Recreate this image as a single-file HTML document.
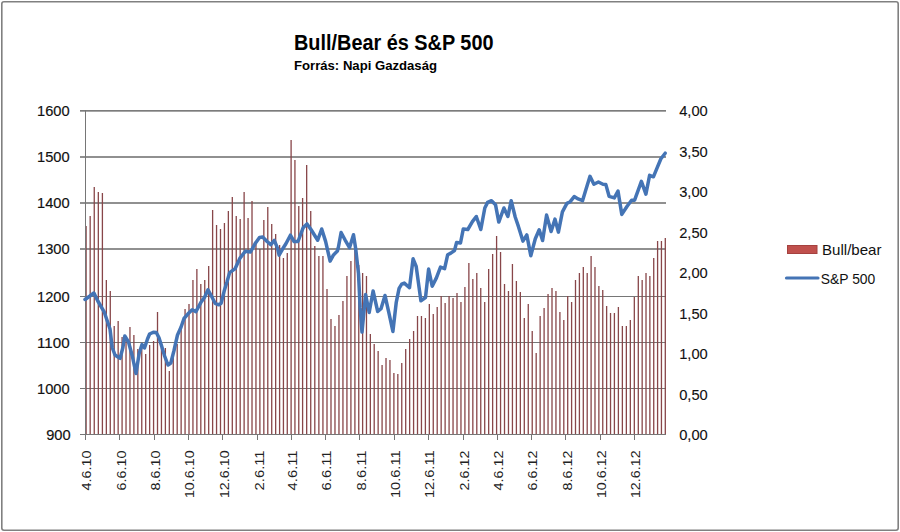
<!DOCTYPE html>
<html><head><meta charset="utf-8"><title>Bull/Bear és S&amp;P 500</title>
<style>
html,body{margin:0;padding:0;background:#fff;}
body{width:900px;height:532px;overflow:hidden;font-family:"Liberation Sans", sans-serif;}
svg{display:block;font-family:"Liberation Sans", sans-serif;}
</style></head><body>
<svg width="900" height="532" viewBox="0 0 900 532">
<rect x="1.8" y="1.8" width="896.4" height="528.4" rx="2.2" ry="2.2" fill="#fff" stroke="#808080" stroke-width="1.6"/>
<g fill="#767676"><rect x="80" y="110.05" width="586" height="1.6"/><rect x="80" y="156.2" width="586" height="1.6"/><rect x="80" y="202.2" width="586" height="1.6"/><rect x="80" y="248.2" width="586" height="1.6"/><rect x="80" y="296" width="586" height="1"/><rect x="80" y="342" width="586" height="1"/><rect x="80" y="388" width="586" height="1"/><rect x="80" y="434" width="586" height="1"/></g>
<g fill="#884649"><rect x="85.45" y="226" width="1.3" height="208"/><rect x="89.52" y="216" width="1.3" height="218"/><rect x="93.6" y="187" width="1.3" height="247"/><rect x="97.67" y="192" width="1.3" height="242"/><rect x="101.75" y="193" width="1.3" height="241"/><rect x="105.69" y="280" width="1.3" height="154"/><rect x="109.62" y="291" width="1.3" height="143"/><rect x="113.56" y="326" width="1.3" height="108"/><rect x="117.5" y="321" width="1.3" height="113"/><rect x="121.43" y="337" width="1.3" height="97"/><rect x="125.37" y="338" width="1.3" height="96"/><rect x="129.3" y="327" width="1.3" height="107"/><rect x="133.24" y="335" width="1.3" height="99"/><rect x="137.18" y="349" width="1.3" height="85"/><rect x="141.11" y="344" width="1.3" height="90"/><rect x="145.05" y="354" width="1.3" height="80"/><rect x="148.99" y="345" width="1.3" height="89"/><rect x="152.92" y="341" width="1.3" height="93"/><rect x="156.86" y="312" width="1.3" height="122"/><rect x="160.8" y="345" width="1.3" height="89"/><rect x="164.73" y="348" width="1.3" height="86"/><rect x="168.67" y="371" width="1.3" height="63"/><rect x="172.6" y="355" width="1.3" height="79"/><rect x="176.54" y="344" width="1.3" height="90"/><rect x="180.48" y="326" width="1.3" height="108"/><rect x="184.41" y="309" width="1.3" height="125"/><rect x="188.35" y="304" width="1.3" height="130"/><rect x="192.29" y="280" width="1.3" height="154"/><rect x="196.22" y="269" width="1.3" height="165"/><rect x="200.16" y="284" width="1.3" height="150"/><rect x="204.1" y="280" width="1.3" height="154"/><rect x="208.03" y="266" width="1.3" height="168"/><rect x="211.97" y="210" width="1.3" height="224"/><rect x="215.9" y="225" width="1.3" height="209"/><rect x="219.84" y="229" width="1.3" height="205"/><rect x="223.78" y="223" width="1.3" height="211"/><rect x="227.71" y="211" width="1.3" height="223"/><rect x="231.65" y="197" width="1.3" height="237"/><rect x="235.59" y="216" width="1.3" height="218"/><rect x="239.53" y="219" width="1.3" height="215"/><rect x="243.47" y="192" width="1.3" height="242"/><rect x="247.42" y="218" width="1.3" height="216"/><rect x="251.36" y="201" width="1.3" height="233"/><rect x="255.3" y="242" width="1.3" height="192"/><rect x="259.24" y="249" width="1.3" height="185"/><rect x="263.18" y="220" width="1.3" height="214"/><rect x="267.13" y="207" width="1.3" height="227"/><rect x="271.07" y="224" width="1.3" height="210"/><rect x="275.01" y="234" width="1.3" height="200"/><rect x="278.95" y="245" width="1.3" height="189"/><rect x="282.78" y="258" width="1.3" height="176"/><rect x="286.62" y="253" width="1.3" height="181"/><rect x="290.45" y="140" width="1.3" height="294"/><rect x="294.28" y="160" width="1.3" height="274"/><rect x="298.12" y="206" width="1.3" height="228"/><rect x="301.95" y="198" width="1.3" height="236"/><rect x="306.02" y="165" width="1.3" height="269"/><rect x="310.08" y="211" width="1.3" height="223"/><rect x="314.15" y="246" width="1.3" height="188"/><rect x="318.22" y="256" width="1.3" height="178"/><rect x="322.28" y="256" width="1.3" height="178"/><rect x="326.35" y="289" width="1.3" height="145"/><rect x="330.34" y="319" width="1.3" height="115"/><rect x="334.32" y="326" width="1.3" height="108"/><rect x="338.31" y="315" width="1.3" height="119"/><rect x="342.29" y="301" width="1.3" height="133"/><rect x="346.28" y="276" width="1.3" height="158"/><rect x="350.26" y="261" width="1.3" height="173"/><rect x="354.25" y="250" width="1.3" height="184"/><rect x="358.11" y="265" width="1.3" height="169"/><rect x="361.97" y="273" width="1.3" height="161"/><rect x="365.83" y="276" width="1.3" height="158"/><rect x="369.69" y="334" width="1.3" height="100"/><rect x="373.55" y="344" width="1.3" height="90"/><rect x="377.49" y="351" width="1.3" height="83"/><rect x="381.43" y="365" width="1.3" height="69"/><rect x="385.36" y="358" width="1.3" height="76"/><rect x="389.3" y="360" width="1.3" height="74"/><rect x="393.24" y="373" width="1.3" height="61"/><rect x="397.18" y="374" width="1.3" height="60"/><rect x="401.11" y="363" width="1.3" height="71"/><rect x="405.05" y="349" width="1.3" height="85"/><rect x="408.99" y="339" width="1.3" height="95"/><rect x="412.93" y="331" width="1.3" height="103"/><rect x="416.86" y="316" width="1.3" height="118"/><rect x="420.8" y="316" width="1.3" height="118"/><rect x="424.74" y="318" width="1.3" height="116"/><rect x="428.68" y="304" width="1.3" height="130"/><rect x="432.61" y="314" width="1.3" height="120"/><rect x="436.55" y="307" width="1.3" height="127"/><rect x="440.51" y="296" width="1.3" height="138"/><rect x="444.47" y="303" width="1.3" height="131"/><rect x="448.43" y="296" width="1.3" height="138"/><rect x="452.39" y="298" width="1.3" height="136"/><rect x="456.35" y="293" width="1.3" height="141"/><rect x="460.31" y="302" width="1.3" height="132"/><rect x="464.26" y="287" width="1.3" height="147"/><rect x="468.22" y="263" width="1.3" height="171"/><rect x="472.18" y="279" width="1.3" height="155"/><rect x="476.14" y="273" width="1.3" height="161"/><rect x="480.1" y="288" width="1.3" height="146"/><rect x="484.06" y="302" width="1.3" height="132"/><rect x="488.02" y="269" width="1.3" height="165"/><rect x="491.98" y="254" width="1.3" height="180"/><rect x="495.94" y="236" width="1.3" height="198"/><rect x="499.9" y="252" width="1.3" height="182"/><rect x="503.86" y="284" width="1.3" height="150"/><rect x="507.82" y="291" width="1.3" height="143"/><rect x="511.78" y="264" width="1.3" height="170"/><rect x="515.74" y="281" width="1.3" height="153"/><rect x="519.69" y="292" width="1.3" height="142"/><rect x="523.65" y="318" width="1.3" height="116"/><rect x="527.61" y="304" width="1.3" height="130"/><rect x="531.57" y="331" width="1.3" height="103"/><rect x="535.53" y="353" width="1.3" height="81"/><rect x="539.49" y="316" width="1.3" height="118"/><rect x="543.45" y="308" width="1.3" height="126"/><rect x="547.4" y="294" width="1.3" height="140"/><rect x="551.35" y="288" width="1.3" height="146"/><rect x="555.3" y="291" width="1.3" height="143"/><rect x="559.25" y="312" width="1.3" height="122"/><rect x="563.15" y="320" width="1.3" height="114"/><rect x="567.05" y="296" width="1.3" height="138"/><rect x="570.95" y="302" width="1.3" height="132"/><rect x="574.85" y="280" width="1.3" height="154"/><rect x="578.75" y="273" width="1.3" height="161"/><rect x="582.65" y="267" width="1.3" height="167"/><rect x="586.55" y="273" width="1.3" height="161"/><rect x="590.45" y="256" width="1.3" height="178"/><rect x="594.33" y="267" width="1.3" height="167"/><rect x="598.22" y="286" width="1.3" height="148"/><rect x="602.1" y="290" width="1.3" height="144"/><rect x="605.98" y="306" width="1.3" height="128"/><rect x="609.87" y="313" width="1.3" height="121"/><rect x="613.75" y="313" width="1.3" height="121"/><rect x="617.73" y="307" width="1.3" height="127"/><rect x="621.72" y="326" width="1.3" height="108"/><rect x="625.7" y="326" width="1.3" height="108"/><rect x="629.68" y="320" width="1.3" height="114"/><rect x="633.67" y="297" width="1.3" height="137"/><rect x="637.65" y="276" width="1.3" height="158"/><rect x="641.51" y="280" width="1.3" height="154"/><rect x="645.36" y="273" width="1.3" height="161"/><rect x="649.22" y="276" width="1.3" height="158"/><rect x="653.08" y="258" width="1.3" height="176"/><rect x="656.94" y="241" width="1.3" height="193"/><rect x="660.79" y="241" width="1.3" height="193"/><rect x="664.65" y="238" width="1.3" height="196"/></g>
<g fill="#767676" shape-rendering="crispEdges"><rect x="85" y="110" width="1" height="325"/><rect x="85" y="435" width="1" height="5"/><rect x="119" y="435" width="1" height="5"/><rect x="154" y="435" width="1" height="5"/><rect x="188" y="435" width="1" height="5"/><rect x="222" y="435" width="1" height="5"/><rect x="257" y="435" width="1" height="5"/><rect x="291" y="435" width="1" height="5"/><rect x="325" y="435" width="1" height="5"/><rect x="359" y="435" width="1" height="5"/><rect x="394" y="435" width="1" height="5"/><rect x="428" y="435" width="1" height="5"/><rect x="463" y="435" width="1" height="5"/><rect x="497" y="435" width="1" height="5"/><rect x="531" y="435" width="1" height="5"/><rect x="565" y="435" width="1" height="5"/><rect x="600" y="435" width="1" height="5"/><rect x="634" y="435" width="1" height="5"/></g>
<polyline points="85,299.5 89.9,296 93.9,293 97.8,301 104.3,312.2 110,329 112.2,347.5 115,355 118,357 120.1,358.3 122.9,347.5 124.8,336 128.5,342 132.3,356 136,373.5 139.2,353.2 142,344.6 144.5,348 147.5,339 149.6,334 153.3,332.2 156.3,332.5 159,337.8 161.6,346 164.6,356 168,365 170.8,363 174,350.5 177.5,335 181,327.3 184,318.5 188,313.8 192.2,309.7 195.9,311.6 200.8,302.6 204.6,297.3 208,289.8 211.3,295.8 215.1,303.3 218.9,304.8 221.1,303.3 224.1,291.3 227.1,281.5 229.6,272.6 235.2,268.6 240,258.1 245.3,251.3 250.5,252 255,243.8 259.5,237.4 262.6,237 267.1,241.5 270.8,244.6 274.3,240.3 277.6,248.3 279.1,255.1 282.1,249.8 285.9,243.8 290.4,235.2 294.1,241.5 298,241.5 303.1,227.8 307,223.9 311,229.5 317.7,240.2 321.7,229 325.6,241.4 330.1,261.1 333.5,254.9 337.4,251 338.3,247.7 341.1,232.5 345,239.8 349.5,247.7 353.5,234.7 355.7,248.8 358.5,273.6 360.1,307.2 362,332 365.6,294.5 369.2,312.5 373.1,291 377.7,311.5 381,308.7 385,295.5 388.9,312.8 392.9,331.5 396.2,302.7 399.1,288.3 401.7,284.1 404.3,283.1 409.5,287.7 413.1,258.8 416.2,266.5 420.9,300.7 425.5,297.6 428.6,269.1 432.2,286.2 436.4,277.9 440.5,267.1 444.6,268.6 447.7,254.7 450.8,253.1 454.5,250.5 456.6,242.4 460.5,243 463.3,228.9 467.8,229.5 472.4,221.6 476.3,216.5 480.8,229.5 484.8,208 487.6,202.4 491.5,200.7 495.5,204.7 498.8,222.1 503.9,208 507.9,216.5 511.2,200.7 515.2,217 518.4,226.4 522.9,241.1 526.8,234.9 530.8,255.7 535.3,238.8 539.2,229.8 542.6,240.5 546.6,215.1 551.1,231.5 555,219.1 558.4,232.1 562.4,211.8 566.9,203.4 570.2,201.7 574.2,196.6 578.1,198.9 582.6,200.6 586,189.3 590,176.3 593.9,184.2 598.4,182 602.9,184.2 605.8,184.4 609.1,196.3 614.3,197.9 618,191.1 621.8,214.4 627.1,206.2 631.6,200.2 634.6,200.2 641.4,181.4 645.9,194.1 649.6,175.3 653.4,176.8 657.1,167.8 660.9,158.8 665.2,153.2" fill="none" stroke="#4474b5" stroke-width="3.5" stroke-linejoin="round" stroke-linecap="round"/>
<text x="69.6" y="116" text-anchor="end" font-size="13.8" textLength="32.6" lengthAdjust="spacingAndGlyphs" fill="#111" stroke="#111" stroke-width="0.15">1600</text>
<text x="69.6" y="162" text-anchor="end" font-size="13.8" textLength="32.6" lengthAdjust="spacingAndGlyphs" fill="#111" stroke="#111" stroke-width="0.15">1500</text>
<text x="69.6" y="208" text-anchor="end" font-size="13.8" textLength="32.6" lengthAdjust="spacingAndGlyphs" fill="#111" stroke="#111" stroke-width="0.15">1400</text>
<text x="69.6" y="254" text-anchor="end" font-size="13.8" textLength="32.6" lengthAdjust="spacingAndGlyphs" fill="#111" stroke="#111" stroke-width="0.15">1300</text>
<text x="69.6" y="302" text-anchor="end" font-size="13.8" textLength="32.6" lengthAdjust="spacingAndGlyphs" fill="#111" stroke="#111" stroke-width="0.15">1200</text>
<text x="69.6" y="348" text-anchor="end" font-size="13.8" textLength="32.6" lengthAdjust="spacingAndGlyphs" fill="#111" stroke="#111" stroke-width="0.15">1100</text>
<text x="69.6" y="394" text-anchor="end" font-size="13.8" textLength="32.6" lengthAdjust="spacingAndGlyphs" fill="#111" stroke="#111" stroke-width="0.15">1000</text>
<text x="70.6" y="440" text-anchor="end" font-size="13.8" textLength="24.45" lengthAdjust="spacingAndGlyphs" fill="#111" stroke="#111" stroke-width="0.15">900</text>
<text x="679.2" y="116.3" font-size="13.9" textLength="28.6" lengthAdjust="spacingAndGlyphs" fill="#111" stroke="#111" stroke-width="0.1">4,00</text>
<text x="679.2" y="156.8" font-size="13.9" textLength="28.6" lengthAdjust="spacingAndGlyphs" fill="#111" stroke="#111" stroke-width="0.1">3,50</text>
<text x="679.2" y="197.3" font-size="13.9" textLength="28.6" lengthAdjust="spacingAndGlyphs" fill="#111" stroke="#111" stroke-width="0.1">3,00</text>
<text x="679.2" y="237.8" font-size="13.9" textLength="28.6" lengthAdjust="spacingAndGlyphs" fill="#111" stroke="#111" stroke-width="0.1">2,50</text>
<text x="679.2" y="278.3" font-size="13.9" textLength="28.6" lengthAdjust="spacingAndGlyphs" fill="#111" stroke="#111" stroke-width="0.1">2,00</text>
<text x="679.2" y="318.8" font-size="13.9" textLength="28.6" lengthAdjust="spacingAndGlyphs" fill="#111" stroke="#111" stroke-width="0.1">1,50</text>
<text x="679.2" y="359.3" font-size="13.9" textLength="28.6" lengthAdjust="spacingAndGlyphs" fill="#111" stroke="#111" stroke-width="0.1">1,00</text>
<text x="679.2" y="399.8" font-size="13.9" textLength="28.6" lengthAdjust="spacingAndGlyphs" fill="#111" stroke="#111" stroke-width="0.1">0,50</text>
<text x="679.2" y="440.3" font-size="13.9" textLength="28.6" lengthAdjust="spacingAndGlyphs" fill="#111" stroke="#111" stroke-width="0.1">0,00</text>
<text transform="translate(91.3 450.4) rotate(-90)" text-anchor="end" font-size="13" textLength="40" lengthAdjust="spacingAndGlyphs" fill="#222">4.6.10</text>
<text transform="translate(125.65 450.4) rotate(-90)" text-anchor="end" font-size="13" textLength="40" lengthAdjust="spacingAndGlyphs" fill="#222">6.6.10</text>
<text transform="translate(160 450.4) rotate(-90)" text-anchor="end" font-size="13" textLength="40" lengthAdjust="spacingAndGlyphs" fill="#222">8.6.10</text>
<text transform="translate(194.35 450.4) rotate(-90)" text-anchor="end" font-size="13" textLength="47.7" lengthAdjust="spacingAndGlyphs" fill="#222">10.6.10</text>
<text transform="translate(228.7 450.4) rotate(-90)" text-anchor="end" font-size="13" textLength="47.7" lengthAdjust="spacingAndGlyphs" fill="#222">12.6.10</text>
<text transform="translate(263.61 450.4) rotate(-90)" text-anchor="end" font-size="13" textLength="40" lengthAdjust="spacingAndGlyphs" fill="#222">2.6.11</text>
<text transform="translate(296.83 450.4) rotate(-90)" text-anchor="end" font-size="13" textLength="40" lengthAdjust="spacingAndGlyphs" fill="#222">4.6.11</text>
<text transform="translate(331.18 450.4) rotate(-90)" text-anchor="end" font-size="13" textLength="40" lengthAdjust="spacingAndGlyphs" fill="#222">6.6.11</text>
<text transform="translate(365.53 450.4) rotate(-90)" text-anchor="end" font-size="13" textLength="40" lengthAdjust="spacingAndGlyphs" fill="#222">8.6.11</text>
<text transform="translate(399.88 450.4) rotate(-90)" text-anchor="end" font-size="13" textLength="47.7" lengthAdjust="spacingAndGlyphs" fill="#222">10.6.11</text>
<text transform="translate(434.23 450.4) rotate(-90)" text-anchor="end" font-size="13" textLength="47.7" lengthAdjust="spacingAndGlyphs" fill="#222">12.6.11</text>
<text transform="translate(469.14 450.4) rotate(-90)" text-anchor="end" font-size="13" textLength="40" lengthAdjust="spacingAndGlyphs" fill="#222">2.6.12</text>
<text transform="translate(502.93 450.4) rotate(-90)" text-anchor="end" font-size="13" textLength="40" lengthAdjust="spacingAndGlyphs" fill="#222">4.6.12</text>
<text transform="translate(537.28 450.4) rotate(-90)" text-anchor="end" font-size="13" textLength="40" lengthAdjust="spacingAndGlyphs" fill="#222">6.6.12</text>
<text transform="translate(571.62 450.4) rotate(-90)" text-anchor="end" font-size="13" textLength="40" lengthAdjust="spacingAndGlyphs" fill="#222">8.6.12</text>
<text transform="translate(605.97 450.4) rotate(-90)" text-anchor="end" font-size="13" textLength="47.7" lengthAdjust="spacingAndGlyphs" fill="#222">10.6.12</text>
<text transform="translate(640.32 450.4) rotate(-90)" text-anchor="end" font-size="13" textLength="47.7" lengthAdjust="spacingAndGlyphs" fill="#222">12.6.12</text>
<text x="294" y="49.8" font-size="21.2" font-weight="bold" textLength="199.5" lengthAdjust="spacingAndGlyphs" fill="#000">Bull/Bear és S&amp;P 500</text>
<text x="294" y="70" font-size="13" font-weight="bold" textLength="143" lengthAdjust="spacingAndGlyphs" fill="#000">Forrás: Napi Gazdaság</text>
<rect x="787.5" y="245.5" width="29.5" height="8" fill="#c0504d" stroke="#a5413f" stroke-width="1"/>
<text x="822" y="254.8" font-size="14.8" textLength="59.5" lengthAdjust="spacingAndGlyphs" fill="#111">Bull/bear</text>
<line x1="786.5" y1="278" x2="818" y2="278" stroke="#4474b5" stroke-width="3.2" stroke-linecap="round"/>
<text x="820.8" y="283.5" font-size="14.4" textLength="54.5" lengthAdjust="spacingAndGlyphs" fill="#111">S&amp;P 500</text>
</svg>
</body></html>
